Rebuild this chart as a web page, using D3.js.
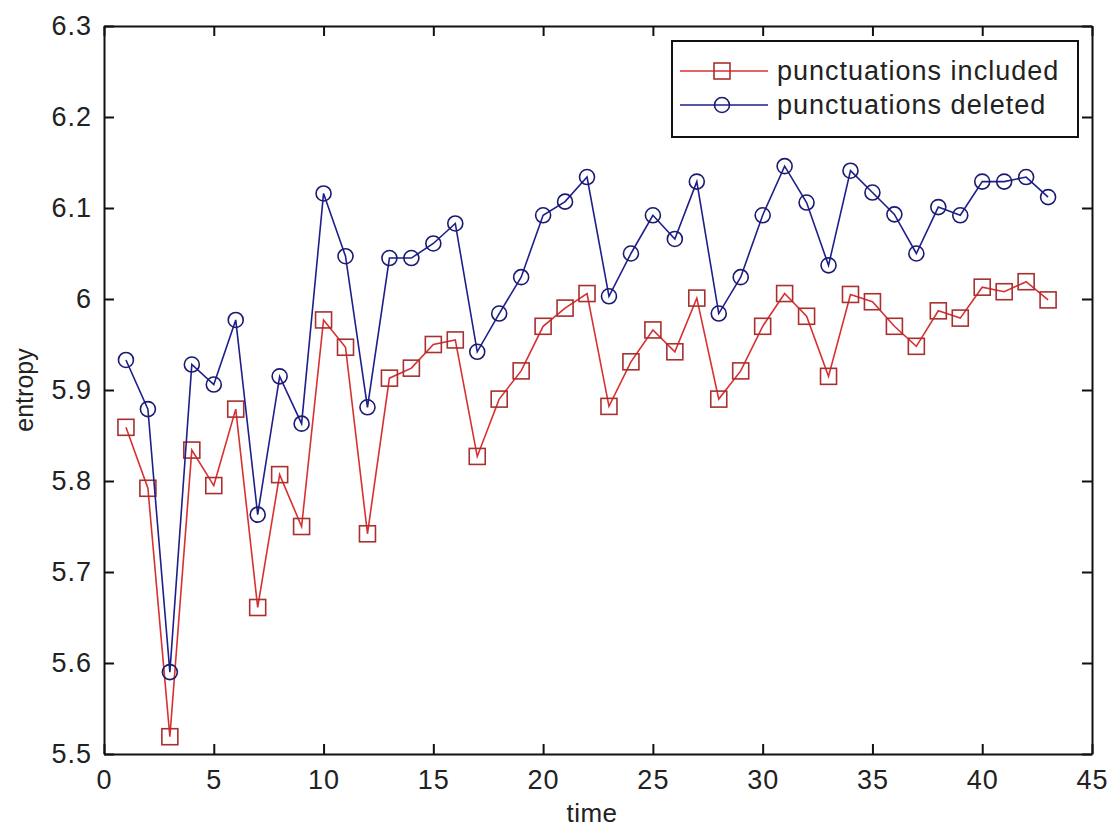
<!doctype html>
<html>
<head>
<meta charset="utf-8">
<title>entropy over time</title>
<style>
  body { margin: 0; background: #fff; }
  svg text { font-family: "Liberation Sans", Arial, sans-serif; fill: #222; }
</style>
</head>
<body>
<svg width="1108" height="828"></svg>
<script src="https://cdn.jsdelivr.net/npm/d3@7/dist/d3.min.js"></script>
<script>

var times = d3.range(1, 44);

var included = [5.859, 5.792, 5.519, 5.834, 5.795, 5.879, 5.661, 5.807, 5.750, 5.977,
                5.947, 5.742, 5.913, 5.924, 5.950, 5.955, 5.827, 5.890, 5.921, 5.970,
                5.990, 6.006, 5.882, 5.931, 5.966, 5.942, 6.001, 5.890, 5.921, 5.970,
                6.006, 5.981, 5.915, 6.005, 5.997, 5.970, 5.948, 5.987, 5.979, 6.013,
                6.008, 6.019, 5.999];

var deleted = [5.933, 5.879, 5.590, 5.928, 5.906, 5.977, 5.763, 5.915, 5.863, 6.116,
               6.047, 5.881, 6.045, 6.045, 6.061, 6.083, 5.942, 5.984, 6.024, 6.092,
               6.107, 6.134, 6.003, 6.050, 6.092, 6.066, 6.129, 5.984, 6.024, 6.092,
               6.146, 6.106, 6.037, 6.141, 6.117, 6.093, 6.050, 6.101, 6.092, 6.129,
               6.129, 6.134, 6.112];

var xTicks = [0, 5, 10, 15, 20, 25, 30, 35, 40, 45];
var yTicks = [5.5, 5.6, 5.7, 5.8, 5.9, 6, 6.1, 6.2, 6.3];
var seriesNames = ["punctuations included", "punctuations deleted"];

var svg = d3.select("svg"),
    plotLeft = 104, plotRight = 1092, plotTop = 26, plotBottom = 754;

var x = d3.scaleLinear().domain([0, 45]).range([plotLeft, plotRight]);
var y = d3.scaleLinear().domain([5.5, 6.3]).range([plotBottom, plotTop]);

var fmt = function(d) { return String(+d.toFixed(1)); };

// axes with inward ticks, matlab style box
var ax = svg.append("g").attr("class", "axes");

ax.append("g")
    .attr("transform", "translate(0," + plotBottom + ")")
    .call(d3.axisBottom(x).tickValues(xTicks).tickSizeInner(-10).tickSizeOuter(0).tickPadding(16).tickFormat(fmt));
ax.append("g")
    .attr("transform", "translate(0," + plotTop + ")")
    .call(d3.axisTop(x).tickValues(xTicks).tickSizeInner(-10).tickSizeOuter(0).tickFormat(""));
ax.append("g")
    .attr("transform", "translate(" + plotLeft + ",0)")
    .call(d3.axisLeft(y).tickValues(yTicks).tickSizeInner(-10).tickSizeOuter(0).tickPadding(12).tickFormat(fmt));
ax.append("g")
    .attr("transform", "translate(" + plotRight + ",0)")
    .call(d3.axisRight(y).tickValues(yTicks).tickSizeInner(-10).tickSizeOuter(0).tickFormat(""));

ax.selectAll(".domain").attr("stroke", "#111").attr("stroke-width", 2);
ax.selectAll(".tick line").attr("stroke", "#111").attr("stroke-width", 2);
ax.selectAll(".tick text").attr("font-size", 27).attr("fill", "#2a2a2a")
    .attr("letter-spacing", 1)
    .attr("font-family", "'Liberation Sans', Arial, sans-serif");

svg.append("text")
    .attr("x", (plotLeft + plotRight) / 2 - 6).attr("y", 822)
    .attr("text-anchor", "middle").attr("font-size", 26).attr("letter-spacing", 0.5)
    .text("time");

svg.append("text")
    .attr("transform", "translate(33," + ((plotTop + plotBottom) / 2) + ") rotate(-90)")
    .attr("text-anchor", "middle").attr("font-size", 25)
    .text("entropy");

// series
var line = d3.line()
    .x(function(d, i) { return x(times[i]); })
    .y(function(d) { return y(d); });

var redLine = "#d83030", redMark = "#a83030";
var blueLine = "#1f1f8c", blueMark = "#1a1a70";

svg.append("path").datum(included)
    .attr("d", line).attr("fill", "none")
    .attr("stroke", redLine).attr("stroke-width", 1.6);

svg.selectAll(".sq").data(included).enter().append("rect")
    .attr("class", "sq")
    .attr("x", function(d, i) { return x(times[i]) - 8; })
    .attr("y", function(d) { return y(d) - 8; })
    .attr("width", 16).attr("height", 16)
    .attr("fill", "none").attr("stroke", redMark).attr("stroke-width", 1.6);

svg.append("path").datum(deleted)
    .attr("d", line).attr("fill", "none")
    .attr("stroke", blueLine).attr("stroke-width", 1.6);

svg.selectAll(".ci").data(deleted).enter().append("circle")
    .attr("class", "ci")
    .attr("cx", function(d, i) { return x(times[i]); })
    .attr("cy", function(d) { return y(d); })
    .attr("r", 7.5)
    .attr("fill", "none").attr("stroke", blueMark).attr("stroke-width", 1.6);

// legend
var lg = svg.append("g").attr("transform", "translate(672,41)");
lg.append("rect")
    .attr("width", 406).attr("height", 96)
    .attr("fill", "#fff").attr("stroke", "#111").attr("stroke-width", 2);

var rows = [{ name: seriesNames[0], line: redLine, mark: redMark, shape: "square", yy: 30 },
            { name: seriesNames[1], line: blueLine, mark: blueMark, shape: "circle", yy: 64 }];

rows.forEach(function(r) {
  lg.append("line")
      .attr("x1", 8).attr("x2", 96).attr("y1", r.yy).attr("y2", r.yy)
      .attr("stroke", r.line).attr("stroke-width", 1.6);
  if (r.shape === "square") {
    lg.append("rect").attr("x", 50 - 8).attr("y", r.yy - 8).attr("width", 16).attr("height", 16)
        .attr("fill", "none").attr("stroke", r.mark).attr("stroke-width", 1.6);
  } else {
    lg.append("circle").attr("cx", 50).attr("cy", r.yy).attr("r", 7.5)
        .attr("fill", "none").attr("stroke", r.mark).attr("stroke-width", 1.6);
  }
  lg.append("text")
      .attr("x", 105).attr("y", r.yy).attr("dy", "0.35em")
      .attr("font-size", 27).attr("letter-spacing", 1)
      .text(r.name);
});

</script>
</body>
</html>
